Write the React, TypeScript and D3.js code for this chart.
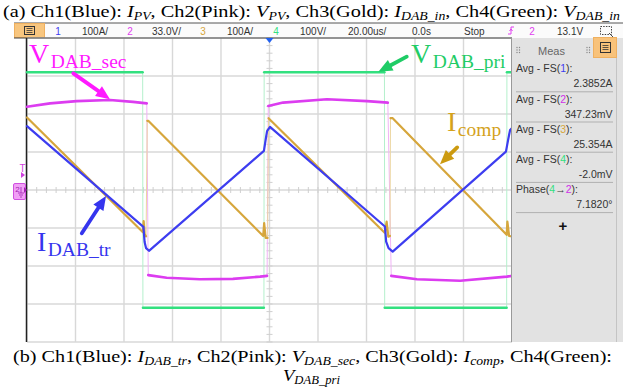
import React, { useEffect, useRef } from 'react';
import * as d3 from 'd3';

// scope screen: 20 us/div across 10 divisions, values read in screen divisions (-4..4)
const timeTicks = [0, 20, 40, 60, 80, 100, 120, 140, 160, 180, 200];
const divTicks = [-4, -3, -2, -1, 0, 1, 2, 3, 4];

// Ch1 (blue): I_DAB_tr
const ch1Time = [0, 48.0, 48.5, 49.1, 50.3, 97.7, 98.4, 99.0, 100.2, 147.6, 148.1, 149.1, 150.8, 197.5, 198.4, 199.2, 200];
const ch1Div = [1.68, -0.97, -1.37, -1.53, -1.6, 1.03, 1.32, 1.55, 1.66, -0.96, -1.36, -1.53, -1.62, 1.01, 1.32, 1.58, 1.63];

// Ch2 (pink): V_DAB_sec
const ch2Time = [0, 9.5, 20.5, 34.2, 43.7, 49.4, 50.0, 57.6, 71.3, 84.9, 96.1, 99.0, 99.5, 105.6, 123.7, 140.2, 148.8, 150.2, 160.8, 178.6, 197.9, 200];
const ch2Div = [2.19, 2.28, 2.34, 2.37, 2.32, 2.28, -2.24, -2.31, -2.35, -2.34, -2.28, -2.26, 2.21, 2.3, 2.39, 2.34, 2.3, -2.26, -2.35, -2.39, -2.28, -2.26];

// Ch3 (gold): I_comp
const ch3Time = [0, 47.8, 48.1, 48.5, 49.1, 49.6, 50.0, 97.4, 97.8, 98.4, 99.2, 99.6, 147.6, 148.3, 149.0, 149.7, 149.9, 150.8, 197.8, 198.1, 198.8, 200];
const ch3Div = [1.91, -1.11, -0.82, -1.16, -1.22, 1.82, 1.82, -1.21, -0.87, -1.26, -1.26, 1.89, -1.13, -0.83, -1.23, -1.21, 1.89, 1.89, -1.18, -0.83, -1.21, -1.22];

// Ch4 (green): V_DAB_pri
const ch4Time = [0, 47.7, 47.8, 97.7, 97.8, 147.4, 147.5, 197.8, 197.9, 200];
const ch4Div = [3.1, 3.1, -3.1, -3.1, 3.1, 3.1, -3.1, -3.1, 3.1, 3.1];

// toolbar + measurement panel texts
const toolbarLabels = ['1', '100A/', '2', '33.0V/', '3', '100A/', '4', '100V/', '20.00us/', '0.0s', 'Stop', '2', '13.1V'];
const measChannels = ['1', '2', '3', '4'];
const measValues = ['2.3852A', '347.23mV', '25.354A', '-2.0mV', '7.1820°'];

const BLUE = '#3d3df0';
const PINK = '#dc3cf0';
const GOLD = '#d6a63c';
const GREEN = '#33e07f';

type Part = { t: string; it?: boolean; sub?: boolean };

const App = () => {
  const ref = useRef<SVGSVGElement>(null);

  useEffect(() => {
    const svg = d3.select(ref.current);
    svg.selectAll('*').remove();

    const x = d3.scaleLinear().domain([0, 200]).range([27, 512]);
    const y = d3.scaleLinear().domain([-4, 4]).range([342, 38]);

    svg.append('rect').attr('width', 623).attr('height', 389).attr('fill', '#fff');

    // rich text helper with italic subscripts
    const rich = (x0, y0, parts: Part[], size, color, anchor = 'start', len = 0) => {
      const t = svg.append('text').attr('x', x0).attr('y', y0)
        .attr('font-family', "'Liberation Serif', 'Times New Roman', serif").attr('font-size', size).attr('fill', color)
        .attr('text-anchor', anchor);
      if (len) t.attr('textLength', len).attr('lengthAdjust', 'spacingAndGlyphs');
      let down = false;
      parts.forEach(p => {
        const s = t.append('tspan').text(p.t);
        if (p.it) s.attr('font-style', 'italic');
        if (p.sub) {
          s.attr('font-size', size * 0.68).attr('dy', down ? 0 : size * 0.2);
          down = true;
        } else if (down) {
          s.attr('dy', -size * 0.2);
          down = false;
        }
      });
      return t;
    };

    // title
    rich(3, 16.5, [
      { t: '(a) Ch1(Blue): ' }, { t: 'I', it: true }, { t: 'PV', it: true, sub: true },
      { t: ', Ch2(Pink): ' }, { t: 'V', it: true }, { t: 'PV', it: true, sub: true },
      { t: ', Ch3(Gold): ' }, { t: 'I', it: true }, { t: 'DAB_in', it: true, sub: true },
      { t: ', Ch4(Green): ' }, { t: 'V', it: true }, { t: 'DAB_in', it: true, sub: true },
    ], 17, '#000', 'start', 617);

    // toolbar
    svg.append('rect').attr('x', 14).attr('y', 23).attr('width', 609).attr('height', 15).attr('fill', '#fbfbfb');
    svg.append('line').attr('x1', 14).attr('x2', 623).attr('y1', 23).attr('y2', 23).attr('stroke', '#555').attr('stroke-width', 1);
    svg.append('rect').attr('x', 14.5).attr('y', 23.5).attr('width', 30).attr('height', 14)
      .attr('fill', '#f8c67f').attr('stroke', '#eeb060');
    svg.append('rect').attr('x', 24.5).attr('y', 26.5).attr('width', 10).attr('height', 8)
      .attr('fill', 'none').attr('stroke', '#333').attr('stroke-width', 1);
    [28.5, 30.5, 32.5].forEach(yy => svg.append('line').attr('x1', 26.5).attr('x2', 32.5).attr('y1', yy).attr('y2', yy).attr('stroke', '#333').attr('stroke-width', 0.8));

    const tbX = [58, 82, 130, 152, 203, 227, 276, 300, 348, 412, 464, 532, 557];
    const tbColor = [BLUE, '#333', '#e040f0', '#333', GOLD, '#333', GREEN, '#333', '#333', '#333', '#333', '#e040f0', '#333'];
    toolbarLabels.forEach((l, i) => {
      svg.append('text').attr('x', tbX[i]).attr('y', 34.5).attr('font-family', "'Liberation Sans', Arial, sans-serif")
        .attr('font-size', 10).attr('fill', tbColor[i]).attr('text-anchor', l.length === 1 ? 'middle' : 'start').text(l);
    });
    // trigger edge glyph
    svg.append('path').attr('d', 'M508,34 L511,34 L511,27 L514,27 M509.5,31 L511,29 L512.5,31')
      .attr('fill', 'none').attr('stroke', '#e040f0').attr('stroke-width', 1);
    svg.append('rect').attr('x', 600.5).attr('y', 26.5).attr('width', 11).attr('height', 8)
      .attr('fill', 'none').attr('stroke', '#444').attr('stroke-dasharray', '1.5,1.2');
    svg.append('path').attr('d', 'M609,33 L613,37').attr('stroke', '#444');

    // grid
    const grid = svg.append('g');
    timeTicks.forEach(t => grid.append('line').attr('x1', x(t)).attr('x2', x(t)).attr('y1', 38).attr('y2', 342)
      .attr('stroke', '#d8d8d8').attr('stroke-width', 1.4));
    divTicks.forEach(v => grid.append('line').attr('x1', 27).attr('x2', 512).attr('y1', y(v)).attr('y2', y(v))
      .attr('stroke', '#d8d8d8').attr('stroke-width', 1.4));
    d3.range(0, 200.01, 4).forEach(t => grid.append('line').attr('x1', x(t)).attr('x2', x(t))
      .attr('y1', y(0) - 3).attr('y2', y(0) + 3).attr('stroke', '#cfcfcf').attr('stroke-width', 1));
    d3.range(-4, 4.01, 0.2).forEach(v => grid.append('line').attr('x1', x(100) - 3).attr('x2', x(100) + 3)
      .attr('y1', y(v)).attr('y2', y(v)).attr('stroke', '#cfcfcf').attr('stroke-width', 1));

    // frame
    svg.append('line').attr('x1', 14).attr('x2', 512).attr('y1', 38).attr('y2', 38).attr('stroke', '#444').attr('stroke-width', 1);
    svg.append('line').attr('x1', 26.5).attr('x2', 26.5).attr('y1', 38).attr('y2', 342).attr('stroke', '#222').attr('stroke-width', 1.5);

    // traces
    const line = d3.line();
    const trace = (times: number[], vals: number[], color: string, edge: string, w: number) => {
      const g = svg.append('g');
      const pts = times.map((t, i) => [x(t), y(vals[i])] as [number, number]);
      g.append('path').attr('d', line(pts)).attr('fill', 'none').attr('stroke', edge).attr('stroke-width', 1);
      let run: [number, number][] = [pts[0]];
      const flush = () => {
        if (run.length > 1) g.append('path').attr('d', line(run)).attr('fill', 'none').attr('stroke', color)
          .attr('stroke-width', w).attr('stroke-linejoin', 'round').attr('stroke-linecap', 'round');
      };
      for (let i = 1; i < pts.length; i++) {
        const dx = Math.abs(pts[i][0] - pts[i - 1][0]);
        const dy = Math.abs(pts[i][1] - pts[i - 1][1]);
        if (dy > 40 && dx < 6) { flush(); run = [pts[i]]; } else run.push(pts[i]);
      }
      flush();
    };
    trace(ch4Time, ch4Div, GREEN, '#b4f0cc', 2.4);
    trace(ch2Time, ch2Div, PINK, '#f0b4f6', 2.6);
    trace(ch3Time, ch3Div, GOLD, '#ecd6a0', 2.2);
    trace(ch1Time, ch1Div, BLUE, '#a8a8f6', 2.2);

    // trigger position marker
    svg.append('path').attr('d', `M${x(100) - 4},38 L${x(100) + 4},38 L${x(100)},43 Z`).attr('fill', '#2060f0');

    // left markers
    svg.append('text').attr('x', 22.5).attr('y', 172).attr('font-family', "'Liberation Sans', Arial, sans-serif")
      .attr('font-size', 10).attr('fill', '#d040e0').attr('text-anchor', 'middle').text('T');
    svg.append('path').attr('d', 'M21,172 L25,175 L21,178 Z').attr('fill', '#d040e0');
    svg.append('rect').attr('x', 13.5).attr('y', 183.5).attr('width', 12).attr('height', 16).attr('rx', 1.5)
      .attr('fill', '#f1a0f6').attr('stroke', '#d050e0');
    svg.append('text').attr('x', 17.5).attr('y', 192).attr('font-family', "'Liberation Sans', Arial, sans-serif")
      .attr('font-size', 8).attr('fill', '#a020b0').attr('text-anchor', 'middle').text('2');
    svg.append('path').attr('d', 'M21,187 L21,193 M18,193 L24,193 M19,195 L23,195 M20,197 L22,197')
      .attr('stroke', '#a020b0').attr('stroke-width', 0.8);
    svg.append('path').attr('d', 'M24,187 L27,190 L24,193 Z').attr('fill', '#a020b0');

    // annotation arrows and labels
    const arrow = (t1, v1, t2, v2, color) => {
      const x1 = x(t1), y1 = y(v1), x2 = x(t2), y2 = y(v2);
      const a = Math.atan2(y2 - y1, x2 - x1);
      const L = 14, Wd = 6;
      const bx = x2 - L * Math.cos(a), by = y2 - L * Math.sin(a);
      svg.append('line').attr('x1', x1).attr('y1', y1).attr('x2', bx).attr('y2', by)
        .attr('stroke', color).attr('stroke-width', 3.8).attr('stroke-linecap', 'round');
      svg.append('path').attr('d', `M${x2},${y2} L${bx + Wd * Math.sin(a)},${by - Wd * Math.cos(a)} L${bx - Wd * Math.sin(a)},${by + Wd * Math.cos(a)} Z`)
        .attr('fill', color);
    };
    arrow(19.1, 3.07, 34.2, 2.39, '#ff19ff');
    arrow(156.6, 3.51, 144.9, 3.11, '#1fcc66');
    arrow(177.4, 1.12, 170.3, 0.68, '#cc9a10');
    arrow(22.6, -1.14, 32.6, -0.16, '#3535ee');

    const label = (t, v, main, sub, color) => {
      const el = svg.append('text').attr('x', x(t)).attr('y', y(v))
        .attr('font-family', "'Liberation Serif', 'Times New Roman', serif").attr('fill', color);
      el.append('tspan').attr('font-size', 28).text(main);
      el.append('tspan').attr('font-size', 19.5).attr('dx', 1.5).attr('dy', 4.5).text(sub);
    };
    label(0.8, 3.34, 'V', 'DAB_sec', '#ff19ff');
    label(158.4, 3.34, 'V', 'DAB_pri', '#1fcc66');
    label(173.2, 1.55, 'I', 'comp', '#d4a21c');
    label(4.1, -1.61, 'I', 'DAB_tr', '#3535ee');

    // measurement panel
    const sans = "'Liberation Sans', Arial, sans-serif";
    svg.append('rect').attr('x', 511.5).attr('y', 38).attr('width', 112).attr('height', 304).attr('fill', '#e2e2e2');
    svg.append('line').attr('x1', 511.5).attr('x2', 511.5).attr('y1', 38).attr('y2', 342).attr('stroke', '#999').attr('stroke-width', 1);
    svg.append('line').attr('x1', 616.5).attr('x2', 616.5).attr('y1', 38).attr('y2', 342).attr('stroke', '#c4c4c4').attr('stroke-width', 1);
    svg.append('rect').attr('x', 593.5).attr('y', 37.5).attr('width', 23).attr('height', 20)
      .attr('fill', '#f8c27a').attr('stroke', '#efb060');
    svg.append('rect').attr('x', 600.5).attr('y', 42.5).attr('width', 10).attr('height', 10)
      .attr('fill', 'none').attr('stroke', '#333');
    [45.5, 47.5, 49.5].forEach(yy => svg.append('line').attr('x1', 602.5).attr('x2', 608.5).attr('y1', yy).attr('y2', yy).attr('stroke', '#333').attr('stroke-width', 0.8));
    [517, 587].forEach(gx => [0, 1].forEach(c => [0, 1, 2].forEach(r =>
      svg.append('circle').attr('cx', gx + c * 2.5).attr('cy', 47.5 + r * 2.5).attr('r', 0.7).attr('fill', '#888'))));
    svg.append('text').attr('x', 551.5).attr('y', 55).attr('font-family', sans).attr('font-size', 11)
      .attr('fill', '#666').attr('text-anchor', 'middle').text('Meas');

    const chColor = [BLUE, '#d030e8', GOLD, GREEN];
    measValues.forEach((val, i) => {
      const top = 68.3 + i * 30.2;
      const lab = svg.append('text').attr('x', 516).attr('y', top + 4).attr('font-family', sans)
        .attr('font-size', 10.5).attr('fill', '#333');
      if (i < 4) {
        lab.append('tspan').text('Avg - FS(');
        lab.append('tspan').attr('fill', chColor[i]).text(measChannels[i]);
        lab.append('tspan').text('):');
      } else {
        lab.append('tspan').text('Phase(');
        lab.append('tspan').attr('fill', GREEN).text('4');
        lab.append('tspan').text('→');
        lab.append('tspan').attr('fill', '#d030e8').text('2');
        lab.append('tspan').text('):');
      }
      svg.append('text').attr('x', 612.5).attr('y', top + 19).attr('font-family', sans)
        .attr('font-size', 10.5).attr('fill', '#333').attr('text-anchor', 'end').text(val);
      svg.append('line').attr('x1', 516).attr('x2', 613).attr('y1', top + 23.5).attr('y2', top + 23.5)
        .attr('stroke', '#b0b0b0').attr('stroke-width', 1);
    });
    svg.append('text').attr('x', 563).attr('y', 231).attr('font-family', sans).attr('font-size', 15)
      .attr('font-weight', 'bold').attr('fill', '#111').attr('text-anchor', 'middle').text('+');

    // bottom caption
    rich(13, 362, [
      { t: '(b) Ch1(Blue): ' }, { t: 'I', it: true }, { t: 'DAB_tr', it: true, sub: true },
      { t: ', Ch2(Pink): ' }, { t: 'V', it: true }, { t: 'DAB_sec', it: true, sub: true },
      { t: ', Ch3(Gold): ' }, { t: 'I', it: true }, { t: 'comp', it: true, sub: true },
      { t: ', Ch4(Green):' },
    ], 17, '#000', 'start', 599);
    rich(283, 381, [{ t: 'V', it: true }, { t: 'DAB_pri', it: true, sub: true }], 17, '#000', 'start', 57);
  }, []);

  return (
    <svg ref={ref} width={623} height={389} style={{ position: 'absolute', left: 0, top: 0 }} />
  );
};

export default App;
